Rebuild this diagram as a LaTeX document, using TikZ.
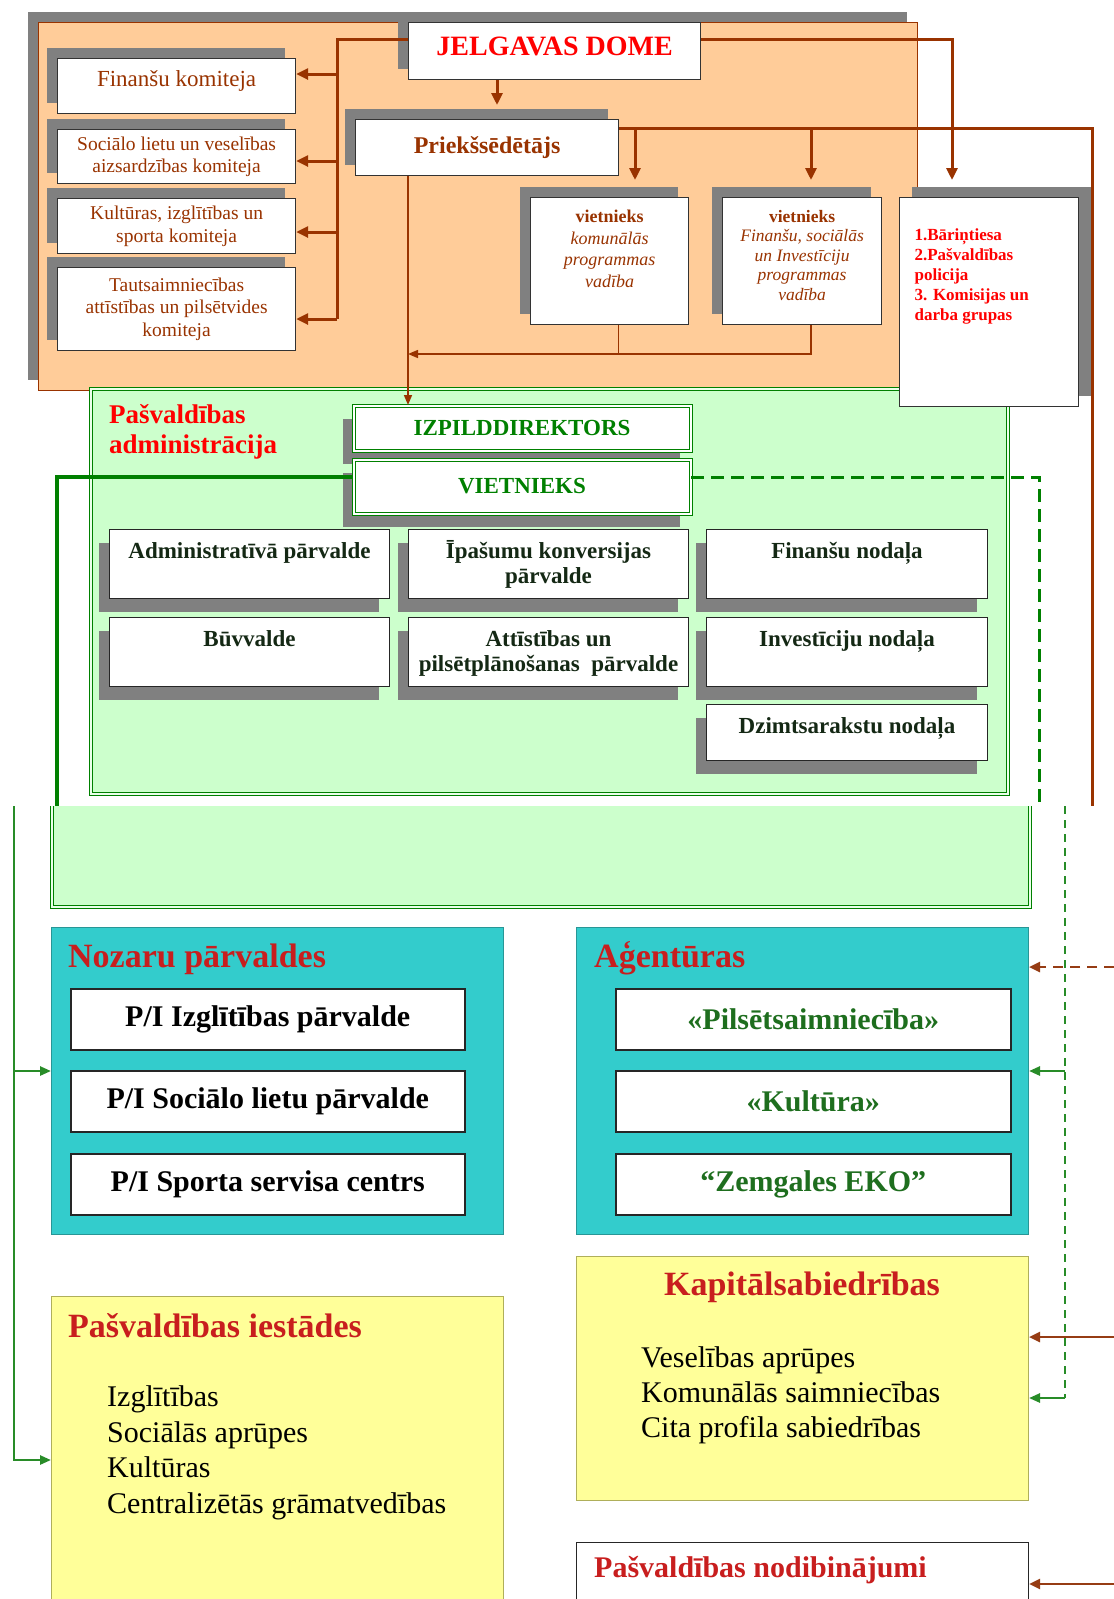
\documentclass[tikz,border=0pt]{standalone}
\usepackage{fontspec}
\setmainfont{Liberation Serif}
\usetikzlibrary{arrows.meta,shadows}

\definecolor{brownline}{RGB}{153,51,0}
\definecolor{domefill}{RGB}{255,204,153}
\definecolor{shadowgray}{RGB}{128,128,128}
\definecolor{adminfill}{RGB}{204,255,204}
\definecolor{admingreen}{RGB}{0,128,0}
\definecolor{lowgreen}{RGB}{40,140,40}
\definecolor{lowbrown}{RGB}{150,60,20}
\definecolor{tealfill}{RGB}{51,204,204}
\definecolor{tealedge}{RGB}{40,150,150}
\definecolor{yellowfill}{RGB}{255,255,153}
\definecolor{yellowedge}{RGB}{175,175,90}
\definecolor{titlered}{RGB}{200,30,30}
\definecolor{agentgreen}{RGB}{30,110,30}
\definecolor{depttext}{RGB}{20,40,20}

% text set at the top of a box: [gap]{width}{height}{text}
\newcommand{\topc}[4][9pt]{\parbox[c][#3][t]{#2}{\vspace*{#1}\centering\rule{0pt}{0.85em}#4\par}}
\newcommand{\topl}[4][9pt]{\parbox[c][#3][t]{#2}{\vspace*{#1}\raggedright\leftskip=15pt\rule{0pt}{0.85em}#4\par}}

\tikzset{
  ulshadow/.style={drop shadow={shadow xshift=-11pt,shadow yshift=11pt,opacity=1,fill=shadowgray}},
  dlshadow/.style={drop shadow={shadow xshift=-11pt,shadow yshift=-13pt,opacity=1,fill=shadowgray}},
  urshadow/.style={drop shadow={shadow xshift=12pt,shadow yshift=11pt,opacity=1,fill=shadowgray}},
  wh/.style 2 args={minimum width=#1,minimum height=#2},
  brline/.style={draw=brownline,line width=3pt},
  brarrow/.style={draw=brownline,line width=3pt,-{Triangle[length=12pt,width=11pt]}},
  brthin/.style={draw=brownline,line width=1.5pt},
  grarrow/.style={draw=lowgreen,line width=2.5pt,-{Triangle[length=11pt,width=9pt]}},
  lbarrow/.style={draw=lowbrown,line width=2.5pt,-{Triangle[length=11pt,width=10pt]}},
  inbox/.style={fill=white,draw=black!85,line width=1.5pt,anchor=north west,wh={394}{61},font=\bfseries\fontsize{30}{33}\selectfont}
}

\begin{document}
\begin{tikzpicture}[x=1pt,y=-1pt,inner sep=0pt]
  \fill[white] (0,0) rectangle (1114,1599);
  \useasboundingbox (0,0) rectangle (1114,1599);
  \clip (0,0) rectangle (1114,1599);

  % dome panel
  \node[ulshadow,fill=domefill,draw=brownline,line width=1pt,anchor=north west,wh={879}{368}] (domepanel) at (38,22) {};
  \node[ulshadow,fill=white,draw=black!80,line width=1.2pt,anchor=north west,wh={292}{57},text depth=9pt,text=red,font=\bfseries\fontsize{28}{31}\selectfont] (dome) at (408,22) {JELGAVAS DOME};

  \begin{scope}[every node/.style={ulshadow,fill=white,draw=black!80,line width=1.2pt,anchor=north west,align=center,minimum width=238,text=brownline,font=\fontsize{19.5}{22.5}\selectfont}]
    \node[minimum height=55,text depth=15pt,font=\fontsize{23}{26}\selectfont] (fin) at (57,58) {Finanšu komiteja};
    \node[minimum height=54] (soc) at (57,129) {Sociālo lietu un veselības\\aizsardzības komiteja};
    \node[minimum height=55] (kult) at (57,198) {Kultūras, izglītības un\\sporta komiteja};
    \node[minimum height=83] (taut) at (57,267) {Tautsaimniecības\\attīstības un pilsētvides\\komiteja};
  \end{scope}

  \node[ulshadow,fill=white,draw=black!80,line width=1.2pt,anchor=north west,wh={263}{56},text=brownline,font=\bfseries\fontsize{24}{27}\selectfont] (pred) at (355,119) {Priekšsēdētājs};

  \begin{scope}[every node/.style={ulshadow,fill=white,draw=black!80,line width=1.2pt,anchor=north west,text=brownline}]
    \node[font=\fontsize{18}{21.5}\selectfont] (viet1) at (530,197) {\topc[10pt]{158pt}{127pt}{\textbf{vietnieks}\\\textit{komunālās\\programmas\\vadība}}};
    \node[font=\fontsize{17.5}{19.5}\selectfont] (viet2) at (722,197) {\topc[10pt]{159pt}{127pt}{\textbf{vietnieks}\\\textit{Finanšu, sociālās\\un Investīciju\\programmas\\vadība}}};
  \end{scope}

  % administration panel
  \node[anchor=north west,wh={917}{405},fill=adminfill,draw=admingreen,line width=1pt,double=adminfill!40!white,double distance=2pt] (admin) at (90,388) {};
  \node[anchor=base west,align=left,text=red,font=\bfseries\fontsize{27}{30}\selectfont] (admintitle) at (109,453) {Pašvaldības\\administrācija};

  \begin{scope}[every node/.style={dlshadow,fill=white,draw=admingreen,line width=1pt,double=white,double distance=2pt,anchor=north west,minimum width=337,text=admingreen,font=\bfseries\fontsize{23}{26}\selectfont}]
    \node[minimum height=45] (izp) at (353,405) {IZPILDDIREKTORS};
    \node[minimum height=54] (vietn) at (353,459) {VIETNIEKS};
  \end{scope}

  \begin{scope}[every node/.style={dlshadow,fill=white,draw=black!85,line width=1pt,anchor=north west,text=depttext,font=\bfseries\fontsize{23}{25}\selectfont}]
    \node (adm) at (109,529) {\topc{280pt}{69pt}{Administratīvā pārvalde}};
    \node (ipk) at (408,529) {\topc{280pt}{69pt}{Īpašumu konversijas\\pārvalde}};
    \node (finn) at (706,529) {\topc{281pt}{69pt}{Finanšu nodaļa}};
    \node (buv) at (109,617) {\topc{280pt}{69pt}{Būvvalde}};
    \node (att) at (408,617) {\topc{280pt}{69pt}{Attīstības un\\pilsētplānošanas\ \ pārvalde}};
    \node (inv) at (706,617) {\topc{281pt}{69pt}{Investīciju nodaļa}};
    \node (dzim) at (706,704) {\topc{281pt}{56pt}{Dzimtsarakstu nodaļa}};
  \end{scope}

  \node[urshadow,fill=white,draw=black!80,line width=1.2pt,anchor=north west,text=red,font=\bfseries\fontsize{17}{20}\selectfont] (barin) at (899,197) {\topl[28pt]{179pt}{209pt}{1.Bāriņtiesa\\2.Pašvaldības\\policija\\3. Komisijas un\\darba grupas}};

  % brown connectors
  \coordinate (bus) at (337,39);
  \draw[brline] (dome.west |- bus) -- (bus) -- (bus |- 0,319);
  \draw[brarrow] (bus |- 0,74) -- (fin.east |- 0,74);
  \draw[brarrow] (bus |- 0,161) -- (soc.east |- 0,161);
  \draw[brarrow] (bus |- 0,232) -- (kult.east |- 0,232);
  \draw[brarrow] (bus |- 0,319) -- (taut.east |- 0,319);
  \draw[brarrow,shorten >=14pt] (dome.south -| 497,0) -- (pred.north -| 497,0);
  \draw[brarrow,shorten >=17pt] (dome.east |- bus) -| (barin.north -| 952,0);

  \coordinate (rbus) at (1092,128);
  \coordinate (rcut) at (1092,806);
  \draw[brline] (pred.east |- rbus) -- (rbus) -- (rcut);
  \draw[brarrow,shorten >=17pt] (rbus -| 635,0) -- (viet1.north -| 635,0);
  \draw[brarrow,shorten >=17pt] (rbus -| 811,0) -- (viet2.north -| 811,0);

  \coordinate (vjoin) at (408,354);
  \coordinate (v1foot) at ([xshift=9pt]viet1.south);
  \coordinate (v2foot) at ([xshift=9pt]viet2.south);
  \draw[brthin] (v1foot) |- (v2foot |- vjoin) -- (v2foot);
  \draw[brthin,-{Triangle[length=10pt,width=8pt]}] (v1foot |- vjoin) -- (vjoin);
  \draw[brthin,-{Triangle[length=10pt,width=8pt]}] (pred.south -| vjoin) -- (izp.north -| vjoin);

  % green connectors
  \coordinate (gcut) at (57,806);
  \coordinate (dcut) at (1039,806);
  \draw[admingreen,line width=3.5pt] (vietn.west |- 0,477) -| (gcut);
  \draw[admingreen,line width=3pt,dash pattern=on 13pt off 7pt] (vietn.east |- 0,477) -| (dcut);

  % lower part
  \fill[adminfill] (52,806) rectangle (1030,907);
  \draw[admingreen,line width=1pt,double=adminfill!40!white,double distance=2pt] (52,806) -- (52,907) -- (1030,907) -- (1030,806);

  \node[anchor=north west,wh={452}{307},fill=tealfill,draw=tealedge,line width=1pt] (nozaru) at (51,927) {};
  \node[anchor=base west,text=titlered,font=\bfseries\fontsize{34}{38}\selectfont] (nozarutitle) at (68,967) {Nozaru pārvaldes};
  \node[inbox] (izgl) at (70,988) {P/I Izglītības pārvalde};
  \node[inbox] (socp) at (70,1070) {P/I Sociālo lietu pārvalde};
  \node[inbox] (sports) at (70,1153) {P/I Sporta servisa centrs};

  \node[anchor=north west,wh={452}{307},fill=tealfill,draw=tealedge,line width=1pt] (agent) at (576,927) {};
  \node[anchor=base west,text=titlered,font=\bfseries\fontsize{34}{38}\selectfont] (agenttitle) at (594,967) {Aģentūras};
  \node[inbox,text=agentgreen,minimum width=395] (pils) at (615,988) {«Pilsētsaimniecība»};
  \node[inbox,text=agentgreen,minimum width=395] (kultag) at (615,1070) {«Kultūra»};
  \node[inbox,text=agentgreen,minimum width=395] (eko) at (615,1153) {“Zemgales EKO”};

  \node[anchor=north west,wh={452}{244},fill=yellowfill,draw=yellowedge,line width=1pt] (kap) at (576,1256) {};
  \node[anchor=base,text=titlered,font=\bfseries\fontsize{34}{38}\selectfont] (kaptitle) at (802,1295) {Kapitālsabiedrības};
  \node[anchor=base west,align=left,font=\fontsize{30}{35}\selectfont] (kapitems) at (641,1437) {Veselības aprūpes\\Komunālās saimniecības\\Cita profila sabiedrības};

  \node[anchor=north west,wh={452}{340},fill=yellowfill,draw=yellowedge,line width=1pt] (iest) at (51,1296) {};
  \node[anchor=base west,text=titlered,font=\bfseries\fontsize{34}{38}\selectfont] (iesttitle) at (68,1337) {Pašvaldības iestādes};
  \node[anchor=base west,align=left,font=\fontsize{30}{35.5}\selectfont] (iestitems) at (107,1513) {Izglītības\\Sociālās aprūpes\\Kultūras\\Centralizētās grāmatvedības};

  \node[anchor=north west,wh={452}{100},fill=white,draw=black!85,line width=1.2pt] (nodib) at (576,1542) {};
  \node[anchor=base west,text=titlered,font=\bfseries\fontsize{30}{34}\selectfont] (nodibtitle) at (594,1577) {Pašvaldības nodibinājumi};

  % lower connectors
  \coordinate (lcut) at (14,806);
  \draw[grarrow] (lcut) |- (iest.west |- 0,1460);
  \draw[grarrow] (lcut |- 0,1071) -- (nozaru.west |- 0,1071);
  \coordinate (ldcut) at (1065,806);
  \draw[lowgreen,line width=2.2pt,dash pattern=on 8pt off 6pt] (ldcut) -- (ldcut |- 0,1398);
  \draw[grarrow] (ldcut |- 0,1398) -- (kap.east |- 0,1398);
  \draw[grarrow] (ldcut |- 0,1071) -- (agent.east |- 0,1071);
  \coordinate (redge) at (1114,967);
  \draw[lbarrow,dash pattern=on 10pt off 7pt] (redge) -- (agent.east |- redge);
  \draw[lbarrow] (redge |- 0,1337) -- (kap.east |- 0,1337);
  \draw[lbarrow] (redge |- 0,1584) -- (nodib.east |- 0,1584);
\end{tikzpicture}
\end{document}
